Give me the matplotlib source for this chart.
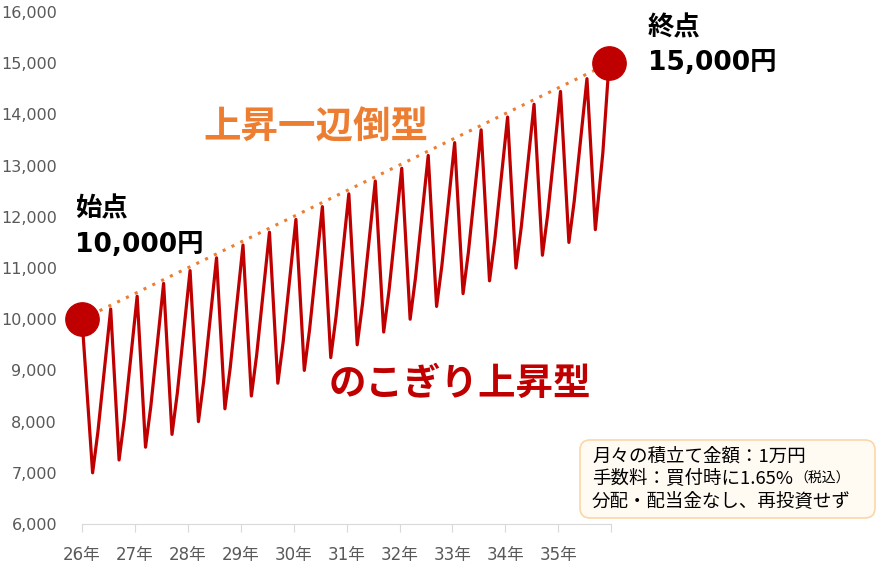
import matplotlib.pyplot as plt
from matplotlib.patches import FancyBboxPatch

# 経過月（26年1月 = 0）
months = [0,
          2.4, 3.6, 6.5, 8.4, 9.6, 12.5, 14.4, 15.6, 18.5, 20.4, 21.6, 24.5,
          26.4, 27.6, 30.5, 32.4, 33.6, 36.5, 38.4, 39.6, 42.5, 44.4, 45.6, 48.5,
          50.4, 51.6, 54.5, 56.4, 57.6, 60.5, 62.4, 63.6, 66.5, 68.4, 69.6, 72.5,
          74.4, 75.6, 78.5, 80.4, 81.6, 84.5, 86.4, 87.6, 90.5, 92.4, 93.6, 96.5,
          98.4, 99.6, 102.5, 104.4, 105.6, 108.5, 110.4, 111.6, 114.5,
          116.4, 118.1, 119.5]

# 評価額（円）
values = [10000,
          7000, 7800, 10200, 7250, 8050, 10450, 7500, 8300, 10700, 7750, 8550, 10950,
          8000, 8800, 11200, 8250, 9050, 11450, 8500, 9300, 11700, 8750, 9550, 11950,
          9000, 9800, 12200, 9250, 10050, 12450, 9500, 10300, 12700, 9750, 10550, 12950,
          10000, 10800, 13200, 10250, 11050, 13450, 10500, 11300, 13700, 10750, 11550, 13950,
          11000, 11800, 14200, 11250, 12050, 14450, 11500, 12300, 14700,
          11750, 13250, 15000]

# 一直線に増えた場合（始点と終点）
trend_months = [0, 119.5]
trend_values = [10000, 15000]

year_ticks = [0, 12, 24, 36, 48, 60, 72, 84, 96, 108, 120]
year_labels = ["26年", "27年", "28年", "29年", "30年", "31年",
               "32年", "33年", "34年", "35年", ""]
y_ticks = [6000, 7000, 8000, 9000, 10000, 11000, 12000, 13000, 14000, 15000, 16000]

note_lines = ["月々の積立て金額：1万円",
              "手数料：買付時に1.65%",
              "分配・配当金なし、再投資せず"]
note_small = "（税込）"

RED = "#c00000"
ORANGE = "#ed7d31"
GRAY = "#595959"
FONTS = ["DejaVu Sans", "Noto Sans CJK JP"]
JP = ["Noto Sans CJK JP", "DejaVu Sans"]

plt.rcParams["font.family"] = FONTS

fig = plt.figure(figsize=(8.82, 5.65), dpi=100)
ax = fig.add_axes([0.093, 0.0726, 0.6, 0.906])

# 点線（上昇一辺倒）
ax.plot(trend_months, trend_values, color=ORANGE, linestyle=(0, (1, 2.2)),
        linewidth=2.2, zorder=2)

# のこぎり型の推移
ax.plot(months, values, color=RED, linewidth=2.3, zorder=3, clip_on=False)

# 始点・終点のマーカー
ax.plot([months[0], months[-1]], [values[0], values[-1]], "o", color=RED,
        markersize=24, zorder=4, clip_on=False)

ax.set_xlim(0, 120)
ax.set_ylim(6000, 16000)
ax.set_xticks(year_ticks)
ax.set_xticklabels(year_labels)
ax.set_yticks(y_ticks)
ax.set_yticklabels([f"{v:,}" for v in y_ticks])

ax.tick_params(axis="x", direction="out", length=6, color="#d9d9d9",
               labelcolor=GRAY, labelsize=12, pad=10)
ax.tick_params(axis="y", length=0, labelcolor=GRAY, labelsize=11.5, pad=18)

for side in ["top", "right", "left"]:
    ax.spines[side].set_visible(False)
ax.spines["bottom"].set_color("#d9d9d9")

# ラベル
ax.text(-1.6, 12150, "始点", fontsize=19, fontweight="bold", family=JP,
        va="center", ha="left", clip_on=False)
ax.text(-1.6, 11450, "10,000円", fontsize=19, fontweight="bold",
        va="center", ha="left", clip_on=False)
ax.text(128.3, 15700, "終点", fontsize=19, fontweight="bold", family=JP,
        va="center", ha="left", clip_on=False)
ax.text(128.3, 15000, "15,000円", fontsize=19, fontweight="bold",
        va="center", ha="left", clip_on=False)

ax.text(53.1, 13760, "上昇一辺倒型", fontsize=27, fontweight="bold",
        family=JP, color=ORANGE, ha="center", va="center")
ax.text(85.7, 8750, "のこぎり上昇型", fontsize=27, fontweight="bold",
        family=JP, color=RED, ha="center", va="center")

# 条件の注記ボックス
box = FancyBboxPatch((5.80, 0.47), 2.95, 0.78,
                     boxstyle="round,pad=0,rounding_size=0.1",
                     transform=fig.dpi_scale_trans,
                     facecolor="#fffaf2", edgecolor="#fbd7a8", linewidth=1.2)
fig.patches.append(box)

line_y = [1.08, 0.86, 0.64]
texts = []
for text, y in zip(note_lines, line_y):
    t = fig.text(5.92 / 8.82, y / 5.65, text, fontsize=13.3, family=JP,
                 va="center", ha="left", color="black")
    texts.append(t)

# （税込）は2行目の右に小さく
fig.canvas.draw()
bb = texts[1].get_window_extent()
fig.text((bb.x1 + 1) / fig.bbox.width, line_y[1] / 5.65, note_small,
         fontsize=10, family=JP, va="center", ha="left", color="black")

plt.savefig("out.png", dpi=100)
plt.close(fig)
